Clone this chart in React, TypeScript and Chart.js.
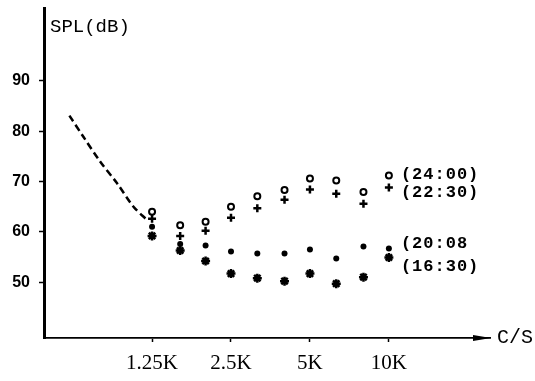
import { useEffect, useRef } from "react";
import { Chart, registerables } from "chart.js";

Chart.register(...registerables);

// third-octave centre frequencies (Hz)
const freqs = [1250, 1600, 2000, 2500, 3150, 4000, 5000, 6300, 8000, 10000];
const spl2400 = [64, 61.3, 62, 65, 67.1, 68.3, 70.6, 70.2, 67.9, 71.2];
const spl2230 = [62.6, 59.2, 60.2, 62.8, 64.7, 66.4, 68.4, 67.6, 65.6, 68.8];
const spl2008 = [61, 57.6, 57.3, 56.1, 55.7, 55.7, 56.5, 54.7, 57.1, 56.7];
const spl1630 = [59.2, 56.3, 54.2, 51.7, 50.8, 50.2, 51.7, 49.7, 51, 54.9];
const trendFreqs = [605, 684, 792, 918, 1062, 1193];
const trendSpl = [83.1, 78.9, 74.0, 69.7, 65.0, 62.4];
const xTickValues = [1250, 2500, 5000, 10000];
const xTickLabels = ["1.25K", "2.5K", "5K", "10K"];
const yTickValues = [50, 60, 70, 80, 90];
const seriesLabels = ["(24:00)", "(22:30)", "(20:08", "(16:30)"];
const yTitle = "SPL(dB)";
const xTitle = "C/S";

export default function App() {
  const ref = useRef<HTMLCanvasElement | null>(null);

  useEffect(() => {
    if (!ref.current) return;
    const labelOffsets = [-1, 5, -5, 9];
    const overlay = {
      id: "overlay",
      afterDraw(chart: any) {
        const ctx = chart.ctx;
        const x = chart.scales.x;
        const y = chart.scales.y;
        const area = chart.chartArea;
        ctx.save();
        ctx.fillStyle = "#000";
        // y title
        ctx.font = "19px 'Liberation Mono'";
        ctx.textAlign = "left";
        ctx.textBaseline = "middle";
        ctx.fillText(yTitle, area.left + 6, 27);
        // x arrow
        ctx.beginPath();
        ctx.moveTo(area.right - 17, area.bottom - 3);
        ctx.lineTo(area.right + 1, area.bottom);
        ctx.lineTo(area.right - 17, area.bottom + 3);
        ctx.closePath();
        ctx.fill();
        ctx.font = "20px 'Liberation Mono'";
        ctx.fillText(xTitle, area.right + 7, area.bottom);
        // series labels at last column
        ctx.font = "bold 17px 'Liberation Mono'";
        (ctx as any).letterSpacing = "1px";
        const lastX = x.getPixelForValue(freqs[freqs.length - 1]) + 12;
        const seriesVals = [spl2400, spl2230, spl2008, spl1630];
        seriesVals.forEach((arr, i) => {
          const py = y.getPixelForValue(arr[arr.length - 1]) + labelOffsets[i];
          ctx.fillText(seriesLabels[i], lastX, py);
        });
        ctx.restore();
      },
    };

    const chart = new Chart(ref.current, {
      type: "scatter",
      data: {
        datasets: [
          {
            label: "trend",
            data: trendFreqs.map((f, i) => ({ x: f, y: trendSpl[i] })),
            showLine: true,
            borderColor: "#000",
            borderWidth: 2.5,
            borderDash: [7, 4],
            pointRadius: 0,
            tension: 0.3,
          },
          {
            label: seriesLabels[0],
            data: freqs.map((f, i) => ({ x: f, y: spl2400[i] })),
            pointStyle: "circle",
            pointRadius: 3,
            borderColor: "#000",
            backgroundColor: "#fff",
            borderWidth: 2,
          },
          {
            label: seriesLabels[1],
            data: freqs.map((f, i) => ({ x: f, y: spl2230[i] })),
            pointStyle: "cross",
            pointRadius: 4,
            borderColor: "#000",
            borderWidth: 2.5,
          },
          {
            label: seriesLabels[2],
            data: freqs.map((f, i) => ({ x: f, y: spl2008[i] })),
            pointStyle: "circle",
            pointRadius: 3,
            borderColor: "#000",
            backgroundColor: "#000",
            borderWidth: 0,
          },
          {
            label: seriesLabels[3],
            data: freqs.map((f, i) => ({ x: f, y: spl1630[i] })),
            pointStyle: "star",
            pointRadius: 4.5,
            borderColor: "#000",
            borderWidth: 2.5,
          },
        ],
      },
      options: {
        responsive: false,
        animation: false,
        devicePixelRatio: 1,
        layout: { padding: { top: 8, right: 45, left: 0, bottom: 0 } },
        plugins: { legend: { display: false }, tooltip: { enabled: false } },
        scales: {
          x: {
            type: "logarithmic",
            min: 484,
            max: 24300,
            afterFit: (s: any) => {
              s.height = 43;
              s.paddingLeft = 0;
              s.paddingRight = 0;
            },
            afterBuildTicks: (s: any) => {
              s.ticks = xTickValues.map((v) => ({ value: v }));
            },
            border: { display: true, color: "#000", width: 1.8 },
            grid: {
              drawOnChartArea: false,
              drawTicks: true,
              tickLength: 4,
              color: "#000",
              tickWidth: 1.5,
            },
            ticks: {
              autoSkip: false,
              maxRotation: 0,
              color: "#000",
              padding: 9,
              font: { family: "'Liberation Serif'", size: 21 },
              callback: (_v: any, i: number) => xTickLabels[i],
            },
          },
          y: {
            type: "linear",
            min: 38.9,
            max: 104.5,
            afterFit: (s: any) => {
              s.width = 44;
              s.paddingTop = 0;
              s.paddingBottom = 0;
            },
            afterBuildTicks: (s: any) => {
              s.ticks = yTickValues.map((v) => ({ value: v }));
            },
            border: { display: true, color: "#000", width: 3 },
            grid: {
              drawOnChartArea: false,
              drawTicks: true,
              tickLength: 5,
              color: "#000",
              tickWidth: 1.5,
            },
            ticks: {
              color: "#000",
              padding: 9,
              font: { family: "'Liberation Sans'", size: 16, weight: "bold" },
              callback: (v: any) => String(v),
            },
          },
        },
      },
      plugins: [overlay],
    } as any);
    return () => chart.destroy();
  }, []);

  return (
    <div style={{ position: "fixed", left: 0, top: 0, width: 535, height: 381, background: "#fff" }}>
      <canvas ref={ref} width={535} height={381} style={{ display: "block" }} />
    </div>
  );
}
